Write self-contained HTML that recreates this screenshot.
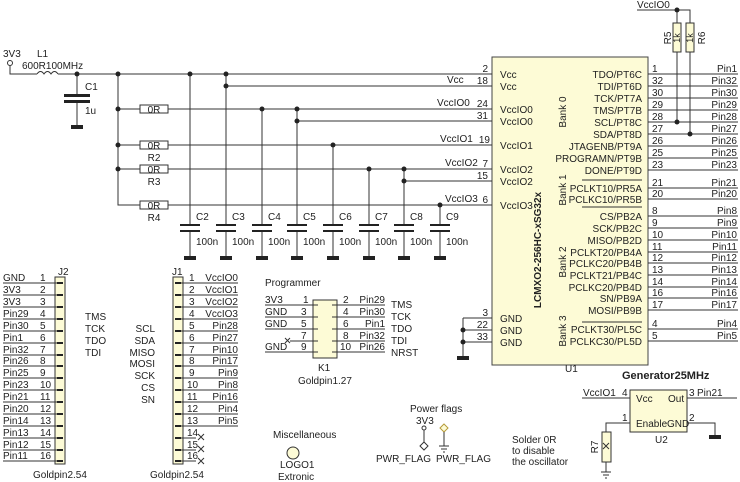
<!DOCTYPE html>
<html><head><meta charset="utf-8"><style>
html,body{margin:0;padding:0;background:#fff;}
svg{display:block;}
text{font-family:"Liberation Sans",Arial,sans-serif;font-size:10px;fill:#222;}
.r{text-anchor:end;}
.m{text-anchor:middle;}
</style></head><body>
<svg width="740" height="482" viewBox="0 0 740 482" xmlns="http://www.w3.org/2000/svg">
<g stroke="#333" stroke-width="1" fill="none">
<rect x="492" y="57" width="156" height="308" fill="#fdfbd6" stroke="#444"/>
<circle cx="10" cy="63" r="2.5"/>
<path d="M10 66V74H37M58 74H470"/>
<path d="M37 74q3.5-5 7 0q3.5-5 7 0q3.5-5 7 0"/>
<path d="M226 86H492M470 74H492"/>
<path d="M77 74V95M77 101V125"/>
<path d="M118 74V205H140M118 109H140M118 145H140M118 169H140"/>
<rect x="140" y="105" width="28" height="8"/>
<rect x="140" y="141" width="28" height="8"/>
<rect x="140" y="165" width="28" height="8"/>
<rect x="140" y="201" width="28" height="8"/>
<path d="M168 109H492M168 145H492M168 169H492M168 205H492"/>
<path d="M297 121H492M404 181H492"/>
<path d="M190 74V225M190 231V256M226 74V225M226 231V256M262 109V225M262 231V256M297 109V225M297 231V256M333 145V225M333 231V256M369 169V225M369 231V256M404 169V225M404 231V256M440 205V225M440 231V256"/>
<path d="M637 10H690V23M677 10V23M677 52V122M690 52V134"/>
<rect x="673" y="23" width="8" height="29" fill="#fdfbd6"/>
<rect x="686" y="23" width="8" height="29" fill="#fdfbd6"/>
<path d="M648 74H738M648 86H738M648 98H738M648 110H738M648 122H738M648 134H738M648 146H738M648 158H738M648 170H738M648 188H738M648 199H738M648 216H738M648 228H738M648 240H738M648 252H738M648 263H738M648 275H738M648 287H738M648 298H738M648 310H738M648 329H738M648 341H738"/>
<path d="M582 180H642M582 207H642M582 322H642"/>
<path d="M463 318H492M463 330H492M463 342H492M463 318V356"/>
<rect x="55" y="277" width="10" height="187" fill="#fdfbd6"/>
<path d="M3 283H61M3 295H61M3 307H61M3 319H61M3 331H61M3 343H61M3 355H61M3 366H61M3 378H61M3 390H61M3 402H61M3 414H61M3 426H61M3 438H61M3 450H61M3 461H61"/>
<rect x="173" y="277" width="10" height="187" fill="#fdfbd6"/>
<path d="M177 283H238M177 295H238M177 307H238M177 319H238M177 331H238M177 343H238M177 355H238M177 366H238M177 378H238M177 390H238M177 402H238M177 414H238M177 426H238M177 438H196M177 450H196M177 461H196"/>
<path d="M198 434l6 6m0-6l-6 6M198 446l6 6m0-6l-6 6M198 458l6 6m0-6l-6 6"/>
<rect x="313" y="300" width="24" height="58" fill="#fdfbd6"/>
<path d="M265 305H318M265 317H318M265 329H318M290 341H318M265 352H318M332 305H385M332 317H385M332 329H385M332 341H385M332 352H385"/>
<path d="M285 338l5 5m0-5l-5 5"/>
<circle cx="293" cy="453" r="6" fill="#fdfbd6"/>
<circle cx="424" cy="428" r="2"/>
<path d="M424 430V442M420 446l4-4 4 4-4 4z"/>
<path d="M440 428l4-4 4 4-4 4z" fill="#fdfbd6" stroke="#b59a3a"/>
<path d="M444 432V446M439 446H449M441 449H447M443 452H445"/>
<rect x="630" y="390" width="57" height="42" fill="#fdfbd6"/>
<path d="M582 398H630M687 398H737M630 423H606V432M606 462V472M601 472H611M603 475H609M605 478H607M687 423H715V435"/>
<rect x="602" y="432" width="9" height="30" fill="#fdfbd6"/>
<path d="M603 443l6 6m0-6l-6 6"/>
</g>
<g fill="#222">
<rect x="64" y="94" width="26" height="3"/><rect x="64" y="100" width="26" height="3"/>
<rect x="71" y="125" width="12" height="4"/>
<g>
<rect x="180" y="224" width="20" height="2"/><rect x="180" y="230" width="20" height="2"/>
<rect x="216" y="224" width="20" height="2"/><rect x="216" y="230" width="20" height="2"/>
<rect x="252" y="224" width="20" height="2"/><rect x="252" y="230" width="20" height="2"/>
<rect x="287" y="224" width="20" height="2"/><rect x="287" y="230" width="20" height="2"/>
<rect x="323" y="224" width="20" height="2"/><rect x="323" y="230" width="20" height="2"/>
<rect x="359" y="224" width="20" height="2"/><rect x="359" y="230" width="20" height="2"/>
<rect x="394" y="224" width="20" height="2"/><rect x="394" y="230" width="20" height="2"/>
<rect x="430" y="224" width="20" height="2"/><rect x="430" y="230" width="20" height="2"/>
</g>
<rect x="184" y="256" width="12" height="4"/><rect x="220" y="256" width="12" height="4"/><rect x="256" y="256" width="12" height="4"/><rect x="291" y="256" width="12" height="4"/><rect x="327" y="256" width="12" height="4"/><rect x="363" y="256" width="12" height="4"/><rect x="398" y="256" width="12" height="4"/><rect x="434" y="256" width="12" height="4"/>
<rect x="457" y="356" width="12" height="4"/>
<rect x="709" y="435" width="12" height="4"/>
<circle cx="77" cy="74" r="2.5"/><circle cx="118" cy="74" r="2.5"/><circle cx="190" cy="74" r="2.5"/><circle cx="226" cy="74" r="2.5"/><circle cx="226" cy="86" r="2.5"/>
<circle cx="118" cy="109" r="2.5"/><circle cx="118" cy="145" r="2.5"/><circle cx="118" cy="169" r="2.5"/>
<circle cx="262" cy="109" r="2.5"/><circle cx="297" cy="109" r="2.5"/><circle cx="297" cy="121" r="2.5"/>
<circle cx="333" cy="145" r="2.5"/><circle cx="369" cy="169" r="2.5"/><circle cx="404" cy="169" r="2.5"/><circle cx="404" cy="181" r="2.5"/><circle cx="440" cy="205" r="2.5"/>
<circle cx="677" cy="10" r="2.5"/><circle cx="677" cy="122" r="2.5"/><circle cx="690" cy="134" r="2.5"/>
<circle cx="463" cy="330" r="2.5"/><circle cx="463" cy="342" r="2.5"/>
<g>
<rect x="57" y="282" width="6" height="2"/><rect x="57" y="294" width="6" height="2"/><rect x="57" y="306" width="6" height="2"/><rect x="57" y="318" width="6" height="2"/><rect x="57" y="330" width="6" height="2"/><rect x="57" y="342" width="6" height="2"/><rect x="57" y="354" width="6" height="2"/><rect x="57" y="365" width="6" height="2"/><rect x="57" y="377" width="6" height="2"/><rect x="57" y="389" width="6" height="2"/><rect x="57" y="401" width="6" height="2"/><rect x="57" y="413" width="6" height="2"/><rect x="57" y="425" width="6" height="2"/><rect x="57" y="437" width="6" height="2"/><rect x="57" y="449" width="6" height="2"/><rect x="57" y="460" width="6" height="2"/>
<rect x="175" y="282" width="6" height="2"/><rect x="175" y="294" width="6" height="2"/><rect x="175" y="306" width="6" height="2"/><rect x="175" y="318" width="6" height="2"/><rect x="175" y="330" width="6" height="2"/><rect x="175" y="342" width="6" height="2"/><rect x="175" y="354" width="6" height="2"/><rect x="175" y="365" width="6" height="2"/><rect x="175" y="377" width="6" height="2"/><rect x="175" y="389" width="6" height="2"/><rect x="175" y="401" width="6" height="2"/><rect x="175" y="413" width="6" height="2"/><rect x="175" y="425" width="6" height="2"/><rect x="175" y="437" width="6" height="2"/><rect x="175" y="449" width="6" height="2"/><rect x="175" y="460" width="6" height="2"/>
</g>
</g>
<text x="3" y="57">3V3</text>
<text x="37" y="57">L1</text>
<text x="22" y="69">600R100MHz</text>
<text x="85" y="90">C1</text>
<text x="85" y="114">1u</text>
<text x="154" y="113" class="m">0R</text>
<text x="154" y="149" class="m">0R</text><text x="154" y="161" class="m">R2</text>
<text x="154" y="173" class="m">0R</text><text x="154" y="185" class="m">R3</text>
<text x="154" y="209" class="m">0R</text><text x="154" y="221" class="m">R4</text>
<text x="196" y="220">C2</text><text x="232" y="220">C3</text><text x="268" y="220">C4</text><text x="303" y="220">C5</text><text x="339" y="220">C6</text><text x="375" y="220">C7</text><text x="410" y="220">C8</text><text x="446" y="220">C9</text>
<text x="196" y="245">100n</text><text x="232" y="245">100n</text><text x="268" y="245">100n</text><text x="303" y="245">100n</text><text x="339" y="245">100n</text><text x="375" y="245">100n</text><text x="410" y="245">100n</text><text x="446" y="245">100n</text>
<text x="447" y="83">Vcc</text>
<text x="437" y="106">VccIO0</text>
<text x="440" y="142">VccIO1</text>
<text x="445" y="166">VccIO2</text>
<text x="445" y="202">VccIO3</text>
<text x="488" y="72" class="r">2</text><text x="488" y="84" class="r">18</text><text x="488" y="107" class="r">24</text><text x="488" y="119" class="r">31</text><text x="490" y="143" class="r">19</text><text x="488" y="167" class="r">7</text><text x="488" y="179" class="r">15</text><text x="488" y="203" class="r">6</text>
<text x="488" y="316" class="r">3</text><text x="488" y="328" class="r">22</text><text x="488" y="340" class="r">33</text>
<text x="500" y="78">Vcc</text><text x="500" y="90">Vcc</text><text x="500" y="113">VccIO0</text><text x="500" y="125">VccIO0</text><text x="500" y="149">VccIO1</text><text x="500" y="173">VccIO2</text><text x="500" y="185">VccIO2</text><text x="500" y="209">VccIO3</text>
<text x="500" y="322">GND</text><text x="500" y="334">GND</text><text x="500" y="346">GND</text>
<g>
<text x="642" y="78" class="r">TDO/PT6C</text><text x="642" y="90" class="r">TDI/PT6D</text><text x="642" y="102" class="r">TCK/PT7A</text><text x="642" y="114" class="r">TMS/PT7B</text><text x="642" y="126" class="r">SCL/PT8C</text><text x="642" y="138" class="r">SDA/PT8D</text><text x="642" y="150" class="r">JTAGENB/PT9A</text><text x="642" y="162" class="r">PROGRAMN/PT9B</text><text x="642" y="174" class="r">DONE/PT9D</text>
<text x="642" y="192" class="r">PCLKT10/PR5A</text><text x="642" y="203" class="r">PCLKC10/PR5B</text>
<text x="642" y="220" class="r">CS/PB2A</text><text x="642" y="232" class="r">SCK/PB2C</text><text x="642" y="244" class="r">MISO/PB2D</text><text x="642" y="256" class="r">PCLKT20/PB4A</text><text x="642" y="267" class="r">PCLKC20/PB4B</text><text x="642" y="279" class="r">PCLKT21/PB4C</text><text x="642" y="291" class="r">PCLKC20/PB4D</text><text x="642" y="302" class="r">SN/PB9A</text><text x="642" y="314" class="r">MOSI/PB9B</text>
<text x="642" y="333" class="r">PCLKT30/PL5C</text><text x="642" y="345" class="r">PCLKC30/PL5D</text>
</g>
<text transform="translate(566,112) rotate(-90)" class="m">Bank 0</text>
<text transform="translate(566,190) rotate(-90)" class="m">Bank 1</text>
<text transform="translate(566,262) rotate(-90)" class="m">Bank 2</text>
<text transform="translate(566,331) rotate(-90)" class="m">Bank 3</text>
<text transform="translate(541,250) rotate(-90)" class="m" style="font-weight:bold">LCMXO2-256HC-xSG32x</text>
<text x="565" y="372">U1</text>
<g>
<text x="652" y="72">1</text><text x="652" y="84">32</text><text x="652" y="96">30</text><text x="652" y="108">29</text><text x="652" y="120">28</text><text x="652" y="132">27</text><text x="652" y="144">26</text><text x="652" y="156">25</text><text x="652" y="168">23</text><text x="652" y="186">21</text><text x="652" y="197">20</text><text x="652" y="214">8</text><text x="652" y="226">9</text><text x="652" y="238">10</text><text x="652" y="250">11</text><text x="652" y="261">12</text><text x="652" y="273">13</text><text x="652" y="285">14</text><text x="652" y="296">16</text><text x="652" y="308">17</text><text x="652" y="327">4</text><text x="652" y="339">5</text>
<text x="737" y="72" class="r">Pin1</text><text x="737" y="84" class="r">Pin32</text><text x="737" y="96" class="r">Pin30</text><text x="737" y="108" class="r">Pin29</text><text x="737" y="120" class="r">Pin28</text><text x="737" y="132" class="r">Pin27</text><text x="737" y="144" class="r">Pin26</text><text x="737" y="156" class="r">Pin25</text><text x="737" y="168" class="r">Pin23</text><text x="737" y="186" class="r">Pin21</text><text x="737" y="197" class="r">Pin20</text><text x="737" y="214" class="r">Pin8</text><text x="737" y="226" class="r">Pin9</text><text x="737" y="238" class="r">Pin10</text><text x="737" y="250" class="r">Pin11</text><text x="737" y="261" class="r">Pin12</text><text x="737" y="273" class="r">Pin13</text><text x="737" y="285" class="r">Pin14</text><text x="737" y="296" class="r">Pin16</text><text x="737" y="308" class="r">Pin17</text><text x="737" y="327" class="r">Pin4</text><text x="737" y="339" class="r">Pin5</text>
</g>
<text x="637" y="8">VccIO0</text>
<text transform="translate(671,38) rotate(-90)" class="m">R5</text>
<text transform="translate(680,38) rotate(-90)" class="m" style="font-size:9px">1k</text>
<text transform="translate(693,38) rotate(-90)" class="m" style="font-size:9px">1k</text>
<text transform="translate(705,38) rotate(-90)" class="m">R6</text>
<text x="58" y="275">J2</text>
<g>
<text x="3" y="281">GND</text><text x="3" y="293">3V3</text><text x="3" y="305">3V3</text><text x="3" y="317">Pin29</text><text x="3" y="329">Pin30</text><text x="3" y="341">Pin1</text><text x="3" y="353">Pin32</text><text x="3" y="364">Pin26</text><text x="3" y="376">Pin25</text><text x="3" y="388">Pin23</text><text x="3" y="400">Pin21</text><text x="3" y="412">Pin20</text><text x="3" y="424">Pin14</text><text x="3" y="436">Pin13</text><text x="3" y="448">Pin12</text><text x="3" y="459">Pin11</text>
<text x="40" y="281">1</text><text x="40" y="293">2</text><text x="40" y="305">3</text><text x="40" y="317">4</text><text x="40" y="329">5</text><text x="40" y="341">6</text><text x="40" y="353">7</text><text x="40" y="364">8</text><text x="40" y="376">9</text><text x="40" y="388">10</text><text x="40" y="400">11</text><text x="40" y="412">12</text><text x="40" y="424">13</text><text x="40" y="436">14</text><text x="40" y="448">15</text><text x="40" y="459">16</text>
</g>
<text x="85" y="320">TMS</text><text x="85" y="332">TCK</text><text x="85" y="344">TDO</text><text x="85" y="356">TDI</text>
<text x="155" y="332" class="r">SCL</text><text x="155" y="344" class="r">SDA</text><text x="155" y="356" class="r">MISO</text><text x="155" y="367" class="r">MOSI</text><text x="155" y="379" class="r">SCK</text><text x="155" y="391" class="r">CS</text><text x="155" y="403" class="r">SN</text>
<text x="33" y="478">Goldpin2.54</text>
<text x="172" y="275">J1</text>
<g>
<text x="189" y="281">1</text><text x="189" y="293">2</text><text x="189" y="305">3</text><text x="189" y="317">4</text><text x="189" y="329">5</text><text x="189" y="341">6</text><text x="189" y="353">7</text><text x="189" y="364">8</text><text x="189" y="376">9</text><text x="187" y="388">10</text><text x="187" y="400">11</text><text x="187" y="412">12</text><text x="187" y="424">13</text><text x="187" y="436">14</text><text x="187" y="448">15</text><text x="187" y="459">16</text>
<text x="238" y="281" class="r">VccIO0</text><text x="238" y="293" class="r">VccIO1</text><text x="238" y="305" class="r">VccIO2</text><text x="238" y="317" class="r">VccIO3</text><text x="238" y="329" class="r">Pin28</text><text x="238" y="341" class="r">Pin27</text><text x="238" y="353" class="r">Pin10</text><text x="238" y="364" class="r">Pin17</text><text x="238" y="376" class="r">Pin9</text><text x="238" y="388" class="r">Pin8</text><text x="238" y="400" class="r">Pin16</text><text x="238" y="412" class="r">Pin4</text><text x="238" y="424" class="r">Pin5</text>
</g>
<text x="150" y="478">Goldpin2.54</text>
<text x="265" y="286">Programmer</text>
<text x="265" y="303">3V3</text><text x="265" y="315">GND</text><text x="265" y="327">GND</text><text x="265" y="350">GND</text>
<text x="303" y="303">1</text><text x="301" y="315">3</text><text x="301" y="327">5</text><text x="301" y="339">7</text><text x="301" y="350">9</text>
<text x="343" y="303">2</text><text x="343" y="315">4</text><text x="343" y="327">6</text><text x="343" y="339">8</text><text x="340" y="350">10</text>
<text x="385" y="303" class="r">Pin29</text><text x="385" y="315" class="r">Pin30</text><text x="385" y="327" class="r">Pin1</text><text x="385" y="339" class="r">Pin32</text><text x="385" y="350" class="r">Pin26</text>
<text x="391" y="308">TMS</text><text x="391" y="320">TCK</text><text x="391" y="332">TDO</text><text x="391" y="344">TDI</text><text x="391" y="356">NRST</text>
<text x="318" y="371">K1</text>
<text x="298" y="384">Goldpin1.27</text>
<text x="273" y="438">Miscellaneous</text>
<text x="280" y="468">LOGO1</text>
<text x="278" y="480">Extronic</text>
<text x="410" y="412">Power flags</text>
<text x="416" y="424">3V3</text>
<text x="376" y="462">PWR_FLAG</text>
<text x="436" y="462">PWR_FLAG</text>
<text x="622" y="379" style="font-weight:bold;font-size:11px">Generator25MHz</text>
<text x="583" y="396">VccIO1</text><text x="622" y="396">4</text>
<text x="636" y="402">Vcc</text><text x="668" y="402">Out</text>
<text x="636" y="427">Enable</text><text x="667" y="427">GND</text>
<text x="689" y="396">3</text><text x="697" y="396">Pin21</text>
<text x="622" y="421">1</text><text x="689" y="421">2</text>
<text x="655" y="443">U2</text>
<text transform="translate(598,447) rotate(-90)" class="m">R7</text>
<text x="512" y="443">Solder  0R</text>
<text x="512" y="454">to  disable</text>
<text x="512" y="465">the  oscillator</text>
</svg>
</body></html>
